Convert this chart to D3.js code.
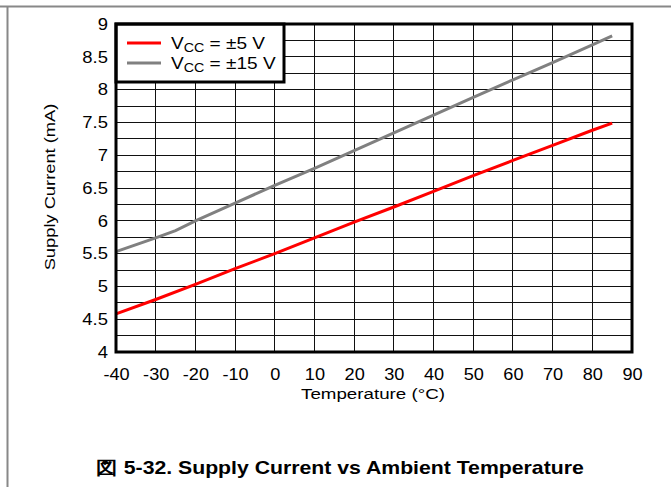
<!DOCTYPE html>
<html><head><meta charset="utf-8">
<script src="https://cdn.jsdelivr.net/npm/d3@7"></script>
<style>body{margin:0;background:#fff}svg{display:block}text{font-family:"Liberation Sans",Arial,sans-serif}</style>
</head><body>
<svg id="c" width="671" height="487"></svg>
<script>
const temps5 = [-40,-30,-20,-10,0,10,20,30,40,50,60,70,80,85];
const vcc5 = [4.58,4.8,5.03,5.27,5.5,5.74,5.98,6.21,6.45,6.69,6.92,7.15,7.38,7.49];
const temps15 = [-40,-30,-25,-20,-10,0,10,20,30,40,50,60,70,80,85];
const vcc15 = [5.53,5.74,5.85,6.0,6.27,6.54,6.8,7.07,7.34,7.61,7.88,8.15,8.41,8.68,8.82];
const xTicks = [-40,-30,-20,-10,0,10,20,30,40,50,60,70,80,90];
const yTicks = [4,4.5,5,5.5,6,6.5,7,7.5,8,8.5,9];
const seriesLabels = [" = ±5 V"," = ±15 V"];

const svg = d3.select("#c");
const L=116,R=632,T=24,B=352;
const x = d3.scaleLinear().domain([-40,90]).range([L,R]);
const y = d3.scaleLinear().domain([4,9]).range([B,T]);

// page border lines
svg.append("line").attr("x1",0).attr("x2",671).attr("y1",6.5).attr("y2",6.5).attr("stroke","#888").attr("stroke-width",2);
svg.append("line").attr("x1",7.5).attr("x2",7.5).attr("y1",6).attr("y2",487).attr("stroke","#888").attr("stroke-width",2);

// grid
const g = svg.append("g").attr("shape-rendering","crispEdges");
g.selectAll(".vg").data(d3.range(-30,90,10)).enter().append("line")
 .attr("x1",d=>x(d)).attr("x2",d=>x(d)).attr("y1",T).attr("y2",B).attr("stroke","#111").attr("stroke-width",1);
g.selectAll(".hg").data(d3.range(4.25,9,0.25)).enter().append("line")
 .attr("x1",L).attr("x2",R).attr("y1",d=>y(d)).attr("y2",d=>y(d)).attr("stroke","#111").attr("stroke-width",1);

// lines
const line = d3.line().x(d=>x(d[0])).y(d=>y(d[1]));
svg.append("path").datum(temps15.map((t,i)=>[t,vcc15[i]])).attr("d",line).attr("fill","none").attr("stroke","#808080").attr("stroke-width",3);
svg.append("path").datum(temps5.map((t,i)=>[t,vcc5[i]])).attr("d",line).attr("fill","none").attr("stroke","#ff0000").attr("stroke-width",3);

// legend
const lg = svg.append("g");
lg.append("rect").attr("x",L).attr("y",T).attr("width",168).attr("height",58).attr("fill","#fff").attr("stroke","#000").attr("stroke-width",3);
const lcol = ["#ff0000","#808080"];
[0,1].forEach(i=>{
  const yy = 43 + i*20;
  lg.append("line").attr("x1",127).attr("x2",161).attr("y1",yy).attr("y2",yy).attr("stroke",lcol[i]).attr("stroke-width",3);
  const t = lg.append("text").attr("transform",`translate(171,${yy+6}) scale(1.19,1)`).attr("font-size",16).attr("fill","#000");
  t.append("tspan").text("V");
  t.append("tspan").attr("font-size",12).attr("dy",3).text("CC");
  t.append("tspan").attr("dy",-3).text(seriesLabels[i]);
});

// frame
svg.append("rect").attr("x",L).attr("y",T).attr("width",R-L).attr("height",B-T).attr("fill","none").attr("stroke","#000").attr("stroke-width",3);

// axes labels
const xa = d3.axisBottom(x).tickValues(xTicks).tickSize(0).tickPadding(16).tickFormat(d=>String(d));
const xg = svg.append("g").attr("transform",`translate(0,${B})`).call(xa);
xg.select(".domain").remove();
xg.selectAll("text").attr("font-size",16.5).attr("fill","#000").attr("transform","scale(1.1,1)").style("font-family","'Liberation Sans',Arial,sans-serif");
const ya = d3.axisLeft(y).tickValues(yTicks).tickSize(0).tickPadding(0).tickFormat(d=>String(d));
const yg = svg.append("g").attr("transform",`translate(${L-8},0)`).call(ya);
yg.select(".domain").remove();
yg.selectAll("text").attr("x",0).attr("font-size",16.5).attr("fill","#000").attr("transform","scale(1.12,1)").style("font-family","'Liberation Sans',Arial,sans-serif");

svg.append("text").attr("transform","translate(373,399) scale(1.25,1)").attr("text-anchor","middle").attr("font-size",15).text("Temperature (°C)");
svg.append("text").attr("transform","translate(55,187) rotate(-90) scale(1.22,1)").attr("text-anchor","middle").attr("font-size",15).text("Supply Current (mA)");
svg.append("text").attr("transform","translate(340,474) scale(1.18,1)").attr("text-anchor","middle").attr("font-size",18).attr("font-weight","bold").text("図 5-32. Supply Current vs Ambient Temperature");
</script>
</body></html>
